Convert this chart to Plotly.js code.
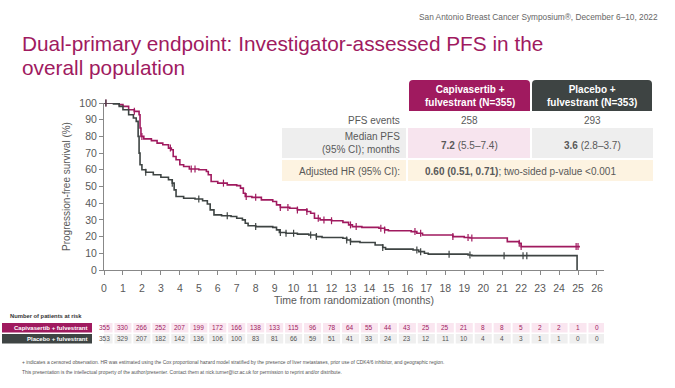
<!DOCTYPE html>
<html><head><meta charset="utf-8">
<script src="https://cdn.plot.ly/plotly-3.0.1.min.js"></script>
<style>html,body{margin:0;padding:0;background:#fff}#chart{width:675px;height:388px}</style>
</head><body><div id="chart"></div>
<script>
// ---- data ----
const capiTime = [0,0.5,0.8,1.0,1.3,1.6,1.85,1.9,1.95,2.1,2.5,2.8,3.1,3.4,3.55,3.65,3.8,4.0,4.2,4.5,5.0,5.4,5.5,5.65,6.0,6.5,7.0,7.2,7.35,7.45,7.8,8.3,8.9,9.1,9.3,9.8,10.2,10.7,10.9,11.1,11.4,12.0,12.6,12.9,13.1,13.6,14.5,14.8,15.0,16.2,16.5,16.8,18.4,19.0,19.3,21.27,21.9,22.0,25.1];
const capiSurv = [100,100,99,98,96,95,93,85,80,78.5,77.5,76,75,73,72,68,66,63,62,60.5,60,59,57,53,52,51,50.5,49,46,44,43.5,42,41,39,37.5,37,36,35,34,31,30,29.5,28.5,27,26,25.5,25,24,23.5,23,22,21,20,19.5,19.2,17,16,14,14];
const capiCens = [0.1,1.6,2.0,3.5,4.6,4.8,6.3,7.5,8.0,9.3,9.7,10.2,10.7,11.3,11.6,12.0,13.0,13.3,14.6,14.8,16.4,16.7,18.4,19.2,19.4,21.9,22.0,24.9,25.0];
const placTime = [0,0.5,0.8,1.0,1.3,1.55,1.7,1.8,1.85,1.9,2.0,2.2,2.6,3.0,3.4,3.6,3.7,3.8,4.2,4.8,5.2,5.45,5.6,5.8,6.2,6.7,7.0,7.3,7.45,7.6,8.0,8.9,9.1,9.25,9.6,10.2,10.8,11.2,11.5,12.6,12.8,13.0,13.5,14.3,14.7,14.85,16.3,16.6,16.9,17.1,19.2,19.4,24.95,24.95];
const placSurv = [100,99.5,98,96,93,91,89,80,70,63,60,58.5,57,55.5,54,52,48,44,43,42.5,41.5,39.5,36,33,32.5,32,31,30,28,26.5,26,25.5,24,22.5,22,21.5,21,20,19.5,19,18,17,16.5,15,13.5,12.5,12,11,10,9.5,9,8.6,8.6,0];
const placCens = [0.1,2.2,3.6,5.0,6.5,8.0,9.3,9.6,10.0,10.9,11.2,12.8,13.0,14.7,16.5,16.7,18.2,19.3,21.1,22.1,22.3];
const months = [0,1,2,3,4,5,6,7,8,9,10,11,12,13,14,15,16,17,18,19,20,21,22,23,24,25,26];
const capiRisk = [355,330,266,252,207,199,172,166,138,133,115,96,78,64,55,44,43,25,25,21,8,8,5,2,2,1,0];
const placRisk = [353,329,207,182,142,136,106,100,83,81,66,59,51,41,33,24,23,12,11,10,4,4,3,1,1,0,0];
const capiName = 'Capivasertib + fulvestrant';
const placName = 'Placebo + fulvestrant';

// ---- styling ----
const MAG = '#a01a5f', DARK = '#3e4443', TXT = '#595959';
const FONT = 'Liberation Sans, Arial, sans-serif';
const W = 675, H = 388, L = 104, R = 604, T = 103, B = 270;
const px = x => (x - L) / (R - L);
const py = y => (B - y) / (B - T);

function lookup(times, surv, t) {
  let v = surv[0];
  for (let i = 0; i < times.length; i++) { if (times[i] <= t) v = surv[i]; else break; }
  return v;
}

const traces = [
  {x: capiTime, y: capiSurv, type: 'scatter', mode: 'lines', line: {shape: 'hv', color: MAG, width: 1.6}, name: capiName, hoverinfo: 'skip', cliponaxis: false},
  {x: placTime, y: placSurv, type: 'scatter', mode: 'lines', line: {shape: 'hv', color: DARK, width: 1.6}, name: placName, hoverinfo: 'skip', cliponaxis: false},
  {x: capiCens, y: capiCens.map(t => lookup(capiTime, capiSurv, t)), type: 'scatter', mode: 'markers',
   marker: {symbol: 'line-ns-open', size: 5, color: MAG, line: {color: MAG, width: 1.2}}, hoverinfo: 'skip', cliponaxis: false},
  {x: placCens, y: placCens.map(t => lookup(placTime, placSurv, t)), type: 'scatter', mode: 'markers',
   marker: {symbol: 'line-ns-open', size: 5, color: DARK, line: {color: DARK, width: 1.2}}, hoverinfo: 'skip', cliponaxis: false}
];

const shapes = [];
const ann = [];
function rectPx(x0, y0, x1, y1, color) {
  shapes.push({type: 'rect', xref: 'paper', yref: 'paper', x0: px(x0), x1: px(x1), y0: py(y1), y1: py(y0), fillcolor: color, line: {width: 0}, layer: 'below'});
}
function roundTopPx(x0, y0, x1, y1, r, color) {
  const X0 = px(x0), X1 = px(x1), Y0 = py(y0), Y1 = py(y1), rx = r / (R - L), ry = r / (B - T);
  const path = `M ${X0} ${Y1} L ${X0} ${Y0 - ry} Q ${X0} ${Y0} ${X0 + rx} ${Y0} L ${X1 - rx} ${Y0} Q ${X1} ${Y0} ${X1} ${Y0 - ry} L ${X1} ${Y1} Z`;
  shapes.push({type: 'path', xref: 'paper', yref: 'paper', path: path, fillcolor: color, line: {width: 0}});
}
function textPx(x, y, text, opts) {
  opts = opts || {};
  ann.push(Object.assign({xref: 'paper', yref: 'paper', x: px(x), y: py(y), text: text, showarrow: false,
    xanchor: opts.xanchor || 'center', yanchor: 'middle',
    font: {family: FONT, size: opts.size || 10, color: opts.color || TXT}}, opts.extra || {}));
}

// title + header
textPx(20, 43, 'Dual-primary endpoint: Investigator-assessed PFS in the', {xanchor: 'left', size: 20.8, color: MAG});
textPx(20, 67, 'overall population', {xanchor: 'left', size: 20.8, color: MAG});
textPx(660, 17, 'San Antonio Breast Cancer Symposium®, December 6–10, 2022', {xanchor: 'right', size: 8.3, color: '#666'});

// summary table
roundTopPx(409, 80, 530, 111, 4, MAG);
roundTopPx(532, 80, 652, 111, 4, DARK);
textPx(469.5, 95.5, '<b>Capivasertib +</b><br><b>fulvestrant (N=355)</b>', {size: 10, color: '#fff'});
textPx(592, 95.5, '<b>Placebo +</b><br><b>fulvestrant (N=353)</b>', {size: 10, color: '#fff'});
textPx(402, 120, 'PFS events', {xanchor: 'right', size: 10});
textPx(469.5, 120, '258', {size: 10});
textPx(592, 120, '293', {size: 10});
rectPx(282, 128, 406, 158, '#eeeeee');
rectPx(408, 128, 530, 158, '#f7e4ee');
rectPx(532, 128, 653, 158, '#eeeeee');
textPx(402, 143, 'Median PFS<br>(95% CI); months', {xanchor: 'right', size: 10, extra: {align: 'right'}});
textPx(469.5, 145, '<b>7.2</b> (5.5–7.4)', {size: 10});
textPx(592, 145, '<b>3.6</b> (2.8–3.7)', {size: 10});
rectPx(282, 160, 406, 181, '#fdf3e1');
rectPx(408, 160, 653, 181, '#fdf3e1');
textPx(402, 171, 'Adjusted HR (95% CI):', {xanchor: 'right', size: 10});
textPx(423, 171, '<b>0.60 (0.51, 0.71)</b>; two-sided p-value &lt;0.001', {xanchor: 'left', size: 10});

// at-risk table
textPx(8, 315.5, '<b>Number of patients at risk</b>', {xanchor: 'left', size: 5.8, color: '#333'});
rectPx(2, 323, 92, 332.5, MAG);
rectPx(2, 334, 92, 343.5, DARK);
textPx(90, 327.8, '<b>' + capiName + '</b>', {xanchor: 'right', size: 6, color: '#fff'});
textPx(90, 338.8, '<b>' + placName + '</b>', {xanchor: 'right', size: 6, color: '#fff'});
months.forEach((m, i) => {
  shapes.push({type: 'rect', xref: 'x', yref: 'paper', x0: m - 0.45, x1: m + 0.45, y0: py(332.5), y1: py(323), fillcolor: '#fae6f0', line: {width: 0}, layer: 'below'});
  shapes.push({type: 'rect', xref: 'x', yref: 'paper', x0: m - 0.45, x1: m + 0.45, y0: py(343.5), y1: py(334), fillcolor: '#efefef', line: {width: 0}, layer: 'below'});
  ann.push({xref: 'x', yref: 'paper', x: m, y: py(327.8), text: String(capiRisk[i]), showarrow: false, xanchor: 'center', yanchor: 'middle', font: {family: FONT, size: 6.5, color: MAG}});
  ann.push({xref: 'x', yref: 'paper', x: m, y: py(338.8), text: String(placRisk[i]), showarrow: false, xanchor: 'center', yanchor: 'middle', font: {family: FONT, size: 6.5, color: '#555'}});
});

// footnotes
textPx(20, 362, '+ indicates a censored observation. HR was estimated using the Cox proportional hazard model stratified by the presence of liver metastases, prior use of CDK4/6 inhibitor, and geographic region.', {xanchor: 'left', size: 4.9, color: '#555'});
textPx(20, 372.5, 'This presentation is the intellectual property of the author/presenter. Contact them at nick.turner@icr.ac.uk for permission to reprint and/or distribute.', {xanchor: 'left', size: 4.9, color: '#555'});

const layout = {
  width: W, height: H,
  margin: {l: L, r: W - R, t: T, b: H - B, pad: 0},
  paper_bgcolor: '#fff', plot_bgcolor: '#fff',
  showlegend: false,
  font: {family: FONT, color: TXT},
  xaxis: {range: [0, 26.37], tickvals: months, ticks: 'outside', ticklen: 4, tickwidth: 1, tickcolor: '#888',
          showline: true, linecolor: '#888', linewidth: 1, showgrid: false, zeroline: false,
          ticklabelstandoff: 4,
          tickfont: {family: FONT, size: 10.5, color: TXT},
          title: {text: 'Time from randomization (months)', font: {family: FONT, size: 10.5, color: TXT}, standoff: 3}},
  yaxis: {range: [0, 100], dtick: 10, ticks: 'outside', ticklen: 4, tickwidth: 1, tickcolor: '#888',
          showline: true, linecolor: '#888', linewidth: 1, showgrid: false, zeroline: false,
          tickfont: {family: FONT, size: 10.5, color: TXT},
          title: {text: 'Progression-free survival (%)', font: {family: FONT, size: 10, color: TXT}, standoff: 6}},
  shapes: shapes,
  annotations: ann
};

Plotly.newPlot('chart', traces, layout, {staticPlot: true, displayModeBar: false});
</script></body></html>
